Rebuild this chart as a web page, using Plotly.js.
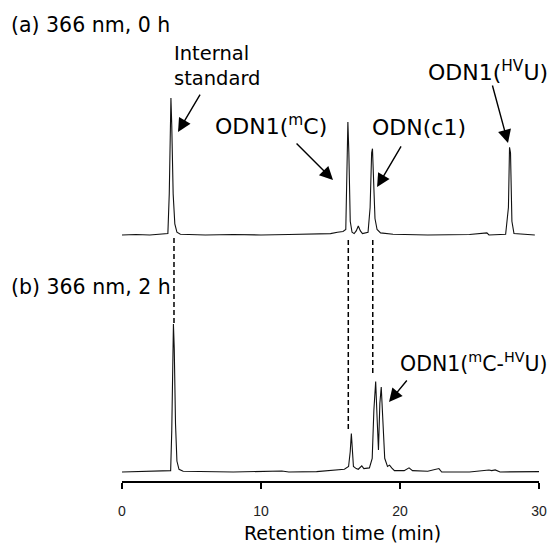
<!DOCTYPE html>
<html>
<head>
<meta charset="utf-8">
<script src="https://cdn.plot.ly/plotly-3.0.1.min.js"></script>
<style>html,body{margin:0;padding:0;background:#fff;}</style>
</head>
<body>
<div id="chart" style="width:551px;height:558px;"></div>
<script>
// (a) 366 nm, 0 h — retention time (min) and relative absorbance
const timeA = [0, 1, 2, 3.0, 3.3, 3.4, 3.47, 3.52, 3.58, 3.68, 3.8, 3.95, 4.2, 6, 8, 10, 12, 14, 15, 15.5, 15.9, 16.1, 16.19, 16.25, 16.32, 16.42, 16.55, 16.7, 16.85, 17.0, 17.15, 17.3, 17.7, 17.85, 17.96, 18.02, 18.1, 18.2, 18.35, 18.6, 19.5, 22, 25, 26.1, 26.25, 26.4, 27.6, 27.8, 27.88, 27.95, 28.05, 28.2, 29.7];
const signalA = [0, 0.003, 0, 0.005, 0.01, 0.3, 0.85, 1.0, 0.8, 0.3, 0.08, 0.02, 0.005, 0, 0.003, 0, 0.003, 0.005, 0.01, 0.02, 0.025, 0.04, 0.6, 0.825, 0.6, 0.1, 0.02, 0.01, 0.03, 0.066, 0.03, 0.01, 0.02, 0.2, 0.6, 0.63, 0.4, 0.12, 0.04, 0.015, 0.005, 0, 0.003, 0.01, 0.015, 0, 0.005, 0.2, 0.64, 0.6, 0.1, 0.01, 0];

// (b) 366 nm, 2 h
const timeB = [0, 1.5, 3, 3.5, 3.58, 3.65, 3.7, 3.76, 3.85, 3.95, 4.1, 4.4, 7, 8, 11.5, 12, 14, 15, 16.0, 16.3, 16.42, 16.5, 16.57, 16.65, 16.85, 17.0, 17.25, 17.4, 17.8, 18.0, 18.12, 18.25, 18.35, 18.45, 18.55, 18.65, 18.78, 18.9, 19.1, 19.25, 19.4, 19.6, 20.3, 20.65, 20.9, 22, 22.8, 23, 25, 26.2, 26.4, 26.6, 26.85, 27.2, 30];
const signalB = [0, 0.003, 0.005, 0.01, 0.3, 0.9, 1.08, 0.9, 0.35, 0.08, 0.02, 0.005, 0.005, 0, 0.007, 0, 0.003, 0.01, 0.02, 0.04, 0.15, 0.28, 0.15, 0.04, 0.025, 0.02, 0.045, 0.025, 0.03, 0.1, 0.45, 0.66, 0.4, 0.16, 0.5, 0.62, 0.35, 0.1, 0.04, 0.05, 0.03, 0.01, 0.01, 0.03, 0.01, 0.005, 0.025, 0, 0, 0.01, 0.015, 0.01, 0.015, 0, 0.003];

const tickVals = [0, 10, 20, 30];
const tickText = ['0', '10', '20', '30'];

const offsetA = 1.73; // vertical stacking of trace (a)

const lineStyle = {color: '#111', width: 1.1};
const traces = [
  {x: timeA, y: signalA.map(v => v + offsetA), type: 'scatter', mode: 'lines', line: lineStyle, hoverinfo: 'skip', name: '(a) 0 h'},
  {x: timeB, y: signalB, type: 'scatter', mode: 'lines', line: lineStyle, hoverinfo: 'skip', name: '(b) 2 h'}
];

const panelFont = {family: 'DejaVu Sans, sans-serif', size: 20.5, color: '#000'};
const stdFont = {family: 'DejaVu Sans, sans-serif', size: 19.5, color: '#000'};
const labFont = {family: 'DejaVu Sans, sans-serif', size: 22, color: '#000'};
const labFontSmall = {family: 'DejaVu Sans, sans-serif', size: 20.5, color: '#000'};

function arrow(tx, ty, hx, hy) {
  return {x: hx, y: hy, ax: tx, ay: ty, xref: 'x', yref: 'y', axref: 'x', ayref: 'y',
    text: '', showarrow: true, arrowhead: 2, arrowsize: 1.9, arrowwidth: 1.4, arrowcolor: '#000', standoff: 0};
}

const annotations = [
  {xref: 'paper', yref: 'paper', x: -0.272, y: 1.034, xanchor: 'left', yanchor: 'middle', text: '(a) 366 nm, 0 h', showarrow: false, font: panelFont},
  {xref: 'paper', yref: 'paper', x: -0.272, y: 0.44, xanchor: 'left', yanchor: 'middle', text: '(b) 366 nm, 2 h', showarrow: false, font: panelFont},
  {xref: 'x', yref: 'y', x: 3.62, y: 2.96, xanchor: 'left', yanchor: 'middle', align: 'left', text: 'Internal<br>standard', showarrow: false, font: stdFont},
  {xref: 'x', yref: 'y', x: 10.72, y: 2.53, xanchor: 'center', yanchor: 'middle', text: 'ODN1(<sup>m</sup>C)', showarrow: false, font: labFont},
  {xref: 'x', yref: 'y', x: 21.37, y: 2.518, xanchor: 'center', yanchor: 'middle', text: 'ODN(c1)', showarrow: false, font: labFont},
  {xref: 'x', yref: 'y', x: 26.3, y: 2.93, xanchor: 'center', yanchor: 'middle', text: 'ODN1(<sup>HV</sup>U)', showarrow: false, font: labFont},
  {xref: 'x', yref: 'y', x: 19.85, y: 0.80, xanchor: 'left', yanchor: 'middle', text: 'ODN1(<sup>m</sup>C-<sup>HV</sup>U)', showarrow: false, font: labFontSmall},
  {xref: 'paper', yref: 'paper', x: 0.5276, y: -0.118, xanchor: 'center', yanchor: 'middle', text: 'Retention time (min)', showarrow: false, font: {family: 'DejaVu Sans, sans-serif', size: 19, color: '#000'}},
  arrow(5.68, 2.766, 4.03, 2.482),
  arrow(12.45, 2.409, 15.18, 2.131),
  arrow(20.14, 2.387, 18.35, 2.080),
  arrow(26.62, 2.832, 27.77, 2.401),
  arrow(20.58, 0.679, 19.21, 0.511)
];

function dashLine(x, y0, y1) {
  return {type: 'line', xref: 'x', yref: 'y', x0: x, x1: x, y0: y0, y1: y1,
    line: {color: '#000', width: 1.5, dash: '5px,3px'}};
}
const shapes = [
  dashLine(3.74, 1.708, 1.088),
  dashLine(16.28, 1.693, 0.307),
  dashLine(18.04, 1.693, 0.708)
];

const layout = {
  width: 551, height: 558,
  margin: {l: 122, r: 12, t: 40, b: 77},
  paper_bgcolor: '#fff', plot_bgcolor: '#fff',
  showlegend: false,
  font: {family: 'DejaVu Sans, sans-serif', color: '#000'},
  xaxis: {
    range: [0, 30], tickvals: tickVals, ticktext: tickText,
    showgrid: false, zeroline: false, showline: true, linecolor: '#000', linewidth: 2,
    ticks: 'outside', ticklen: 6, tickwidth: 2, tickcolor: '#000',
    tickfont: {family: 'Liberation Sans, sans-serif', size: 14, color: '#222'},
    ticklabelstandoff: 10,
    fixedrange: true
  },
  yaxis: {range: [-0.0657, 3.153], visible: false, fixedrange: true},
  annotations: annotations,
  shapes: shapes
};

Plotly.newPlot('chart', traces, layout, {displayModeBar: false, staticPlot: true});
</script>
</body>
</html>
